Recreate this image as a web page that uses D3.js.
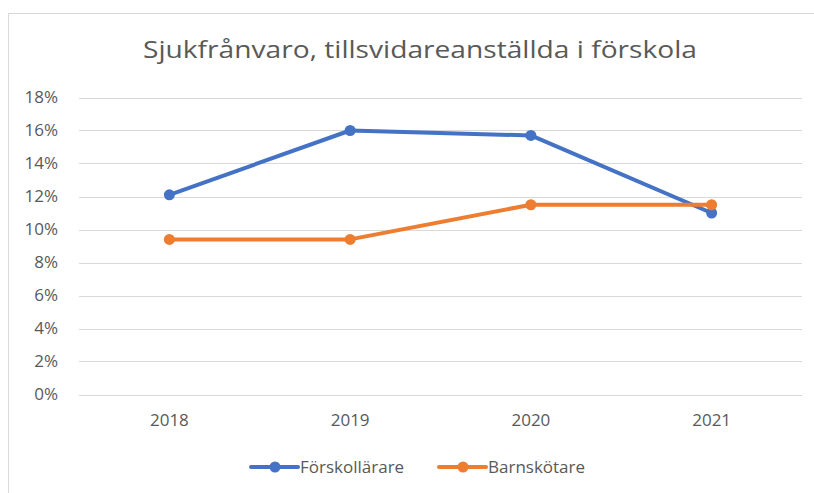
<!DOCTYPE html>
<html lang="sv">
<head>
  <meta charset="UTF-8">
  <title>Sjukfrånvaro</title>
  <script src="https://d3js.org/d3.v7.min.js"></script>
  <style>
    body { margin: 0; padding: 0; background: #fff; }
    svg { display: block; font-family: "Open Sans", "Noto Sans", sans-serif; }
  </style>
</head>
<body>
  <svg id="chart"></svg>
  <script>
    // data
    const years = ["2018", "2019", "2020", "2021"];
    const forskollarare = [0.121, 0.160, 0.157, 0.110];
    const barnskotare = [0.094, 0.094, 0.115, 0.115];
    const yTicks = [0, 0.02, 0.04, 0.06, 0.08, 0.10, 0.12, 0.14, 0.16, 0.18];

    const series = [
      { name: "Förskollärare", values: forskollarare, color: "#4472C4" },
      { name: "Barnskötare", values: barnskotare, color: "#ED7D31" }
    ];

    const width = 814, height = 493;
    const svg = d3.select("#chart").attr("width", width).attr("height", height);

    // chart frame
    svg.append("rect")
      .attr("x", 8.5).attr("y", 13.5)
      .attr("width", 830).attr("height", 500)
      .attr("fill", "none").attr("stroke", "#d9d9d9").attr("stroke-width", 1);

    // title
    svg.append("text")
      .attr("x", 420).attr("y", 58)
      .attr("text-anchor", "middle")
      .attr("font-size", 24)
      .attr("fill", "#595959")
      .attr("textLength", 554)
      .attr("lengthAdjust", "spacingAndGlyphs")
      .text("Sjukfrånvaro, tillsvidareanställda i förskola");

    const x = d3.scaleBand().domain(years).range([79, 802]);
    const y = d3.scaleLinear().domain([0, 0.18]).range([394.5, 97.5]);

    // gridlines
    svg.append("g").selectAll("line")
      .data(yTicks)
      .join("line")
      .attr("x1", 79).attr("x2", 802)
      .attr("y1", d => Math.round(y(d)) + 0.5)
      .attr("y2", d => Math.round(y(d)) + 0.5)
      .attr("stroke", "#d9d9d9").attr("stroke-width", 1);

    // y axis labels
    const yAxis = svg.append("g")
      .attr("transform", "translate(79,0)")
      .call(d3.axisLeft(y).tickValues(yTicks).tickFormat(d3.format(".0%")).tickSize(0).tickPadding(21));
    yAxis.select(".domain").remove();
    yAxis.selectAll("text").attr("font-size", 17).attr("fill", "#595959")
      .attr("font-family", "'Open Sans', sans-serif");

    // x axis labels
    const xAxis = svg.append("g")
      .attr("transform", "translate(0,394.5)")
      .call(d3.axisBottom(x).tickSize(0).tickPadding(19));
    xAxis.select(".domain").remove();
    xAxis.selectAll("text").attr("font-size", 17).attr("fill", "#595959")
      .attr("font-family", "'Open Sans', sans-serif");

    const cx = d => x(d) + x.bandwidth() / 2;
    const line = d3.line()
      .x((d, i) => cx(years[i]))
      .y(d => y(d));

    series.forEach(s => {
      const g = svg.append("g");
      g.append("path")
        .attr("d", line(s.values))
        .attr("fill", "none")
        .attr("stroke", s.color)
        .attr("stroke-width", 4)
        .attr("stroke-linejoin", "round")
        .attr("stroke-linecap", "round");
      g.selectAll("circle")
        .data(s.values)
        .join("circle")
        .attr("cx", (d, i) => cx(years[i]))
        .attr("cy", d => y(d))
        .attr("r", 5.5)
        .attr("fill", s.color);
    });

    // legend
    const legendX = [251, 439];
    const legend = svg.append("g");
    series.forEach((s, i) => {
      const lg = legend.append("g").attr("transform", `translate(${legendX[i]},467)`);
      lg.append("line")
        .attr("x1", 0).attr("x2", 47)
        .attr("stroke", s.color).attr("stroke-width", 4).attr("stroke-linecap", "round");
      lg.append("circle").attr("cx", 24).attr("r", 5.5).attr("fill", s.color);
      lg.append("text")
        .attr("x", 49).attr("y", 6)
        .attr("font-size", 17).attr("fill", "#595959")
        .text(s.name);
    });
  </script>
</body>
</html>
